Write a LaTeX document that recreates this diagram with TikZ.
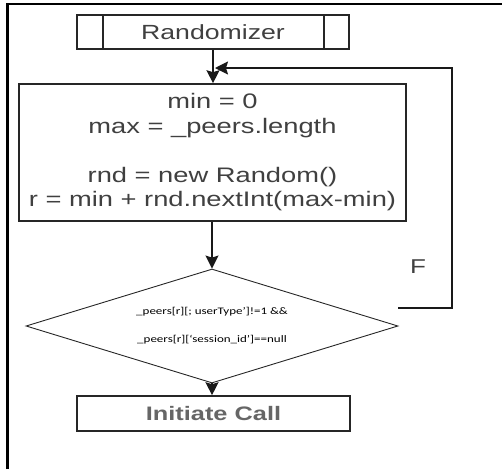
\documentclass[tikz,border=0pt]{standalone}
\usepackage{fontspec}
\setmainfont{Liberation Sans}
\newfontfamily\calib{Carlito}
\usepackage{graphicx}
\usetikzlibrary{arrows.meta, positioning, shapes.geometric}
\newcommand{\wide}[1]{\scalebox{1.3}[1]{#1}}
\begin{document}
\begin{tikzpicture}[
    x=1pt, y=-1pt,
    box/.style={draw=black!85, line width=1.6pt, rectangle, inner sep=0pt, align=center, text=black!75},
    decision/.style={draw=black!85, line width=0.9pt, diamond, aspect=3.26, inner sep=0pt, minimum width=372pt, minimum height=114pt, align=center, font=\calib\fontsize{10}{12}\selectfont},
    arr/.style={-{Stealth[length=13pt, width=13pt, inset=2pt]}, line width=1.3pt, draw=black!90}
]
\useasboundingbox (0,0) rectangle (502,469);
\draw[line width=2.4pt] (7.5,469) -- (7.5,4) -- (502,4);
\node[box, minimum width=272pt, minimum height=34pt, font=\fontsize{20.5}{24}\selectfont] (rand) at (213,32) {\wide{Randomizer}};
\draw[line width=1.6pt, black!85] ([xshift=27pt]rand.north west) -- ([xshift=27pt]rand.south west)
    ([xshift=-26pt]rand.north east) -- ([xshift=-26pt]rand.south east);
\node[box, minimum width=387pt, minimum height=137pt, font=\fontsize{21}{24.5}\selectfont] (setup) at (212.5,152.5)
    {\wide{min = 0}\\\wide{max = \_peers.length}\\[24.5pt]\wide{rnd = new Random()}\\\wide{r = min + rnd.nextInt(max-min)}};
\node[decision] (test) at (212,326) {\wide{\_peers[r][; userType’]!=1 \&\&}\\[16pt]\wide{\_peers[r][‘session\_id’]==null}};
\node[box, minimum width=273pt, minimum height=35pt, text=black!60, font=\bfseries\fontsize{19.5}{24}\selectfont] (call) at (213.5,413.5) {\wide{Initiate Call}};
\node[font=\fontsize{20}{24}\selectfont, text=black!75] (flab) at (418,267) {\wide{F}};
\coordinate (corner) at (452,68);
\coordinate (join) at (215,68);
\draw[arr] (rand) -- (rand |- setup.north);
\draw[arr] (setup.south -| test.north) -- (test.north);
\draw[arr] (test.south) -- (test.south |- call.north);
\draw[arr] ([yshift=18pt]test.east) -| (corner) -- (join);
\end{tikzpicture}
\end{document}
